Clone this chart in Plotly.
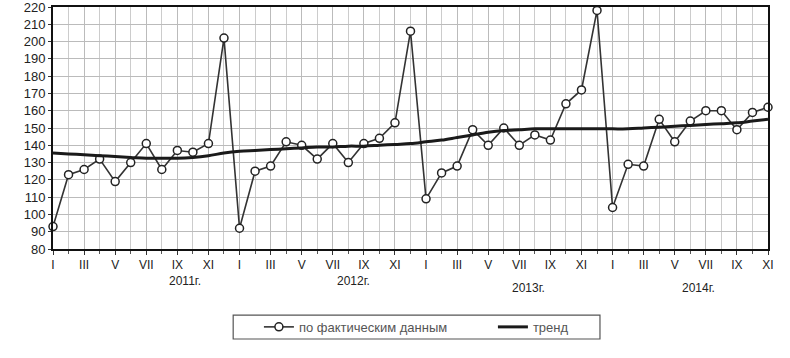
import plotly.graph_objects as go

months = list(range(47))
roman = ["I", "III", "V", "VII", "IX", "XI"]
tick_positions = list(range(0, 47, 2))
tick_labels = [roman[i % 6] for i in range(len(tick_positions))]
years = ["2011г.", "2012г.", "2013г.", "2014г."]

actual = [93, 123, 126, 132, 119, 130, 141, 126, 137, 136, 141, 202,
          92, 125, 128, 142, 140, 132, 141, 130, 141, 144, 153, 206,
          109, 124, 128, 149, 140, 150, 140, 146, 143, 164, 172, 218,
          104, 129, 128, 155, 142, 154, 160, 160, 149, 159, 162]

trend = [135.5, 135, 134.5, 134, 133.5, 133, 132.5, 132.5, 132.5, 133, 134, 135.5,
         136.5, 137, 137.5, 138, 138.5, 139, 139, 139.5, 139.5, 140, 140.5, 141,
         142, 143, 144.5, 146, 147.5, 148.5, 149, 149.5, 149.5, 149.5, 149.5, 149.5,
         149.5, 149.5, 150, 150.5, 151, 151.5, 152, 152.5, 153, 154, 155]

fig = go.Figure()
fig.add_trace(go.Scatter(
    x=months, y=actual, mode="lines+markers", name="по фактическим данным",
    line=dict(color="#333333", width=1.6),
    marker=dict(symbol="circle", size=8, color="white", line=dict(color="#222222", width=1.5)),
    cliponaxis=False,
))
fig.add_trace(go.Scatter(
    x=months, y=trend, mode="lines", name="тренд",
    line=dict(color="#1a1a1a", width=3, shape="spline"),
    cliponaxis=False,
))

year_x = [0.159, 0.420, 0.691, 0.929]
year_y = [-0.169, -0.169, -0.198, -0.198]
for yr, xx, yy in zip(years, year_x, year_y):
    fig.add_annotation(text=yr, x=xx, y=yy, xref="paper", yref="paper",
                       showarrow=False, font=dict(size=12, color="#222222",
                                                  family="Liberation Sans, Arial"))

# legend frame
fig.add_shape(type="rect", xref="paper", yref="paper",
              x0=0.252, x1=0.765, y0=-0.372, y1=-0.273,
              line=dict(color="#555555", width=1.2), fillcolor="rgba(0,0,0,0)")

fig.update_layout(
    width=790, height=358,
    margin=dict(l=53, r=22, t=7, b=109, autoexpand=False),
    paper_bgcolor="white", plot_bgcolor="white",
    font=dict(family="Liberation Sans, Arial", color="#222222"),
    showlegend=True,
    legend=dict(orientation="h", x=0.288, xanchor="left", y=-0.322, yanchor="middle",
                borderwidth=0, bgcolor="rgba(0,0,0,0)",
                font=dict(size=13, color="#555555"),
                entrywidth=189, entrywidthmode="pixels", tracegroupgap=0),
    xaxis=dict(range=[0, 46], tickvals=tick_positions, ticktext=tick_labels,
               automargin=False,
               showgrid=True, gridcolor="#bbbbbb", gridwidth=1,
               ticks="outside", ticklen=4, tickcolor="#333333",
               minor=dict(dtick=1, tick0=0, showgrid=True, gridcolor="#cccccc",
                          ticks="outside", ticklen=3, tickcolor="#555555"),
               showline=True, linecolor="#111111", linewidth=2, mirror=True,
               zeroline=False, tickfont=dict(size=12, color="#222222")),
    yaxis=dict(range=[80, 220], dtick=10, tick0=80, automargin=False,
               ticklabeloverflow="allow",
               showgrid=True, gridcolor="#bbbbbb", gridwidth=1,
               ticks="outside", ticklen=3, tickcolor="#333333",
               showline=True, linecolor="#111111", linewidth=2, mirror=True,
               zeroline=False, tickfont=dict(size=13, color="#222222")),
)

fig.write_html("out.html", config={"displayModeBar": False},
               post_script="document.body.style.margin='0px';")
